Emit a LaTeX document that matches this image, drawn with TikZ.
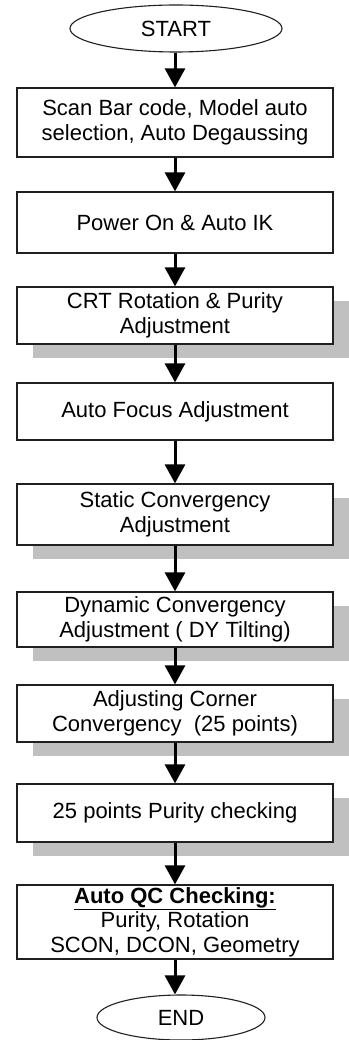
\documentclass[tikz,border=0pt]{standalone}
\usepackage{fontspec}
\setmainfont{Liberation Sans}
\usetikzlibrary{arrows.meta,shapes.geometric,shadows}
\definecolor{shadowgray}{HTML}{C0C0C0}
\definecolor{edgegray}{HTML}{202020}
\begin{document}
\begin{tikzpicture}[x=1pt,y=-1pt,
  every node/.style={font=\fontsize{22}{24.5}\selectfont, text=black},
  stepbox/.style={draw=edgegray, line width=1.3pt, fill=white, rectangle,
    minimum width=316pt, align=center, inner sep=0pt},
  shadowed/.style={drop shadow={shadow xshift=16pt, shadow yshift=-14pt,
    fill=shadowgray, opacity=1}},
  term/.style={draw=edgegray, line width=1.1pt, fill=white, ellipse, inner sep=0pt},
  flow/.style={line width=3pt, -{Triangle[length=19pt,width=20pt]}}
]
\useasboundingbox (0,0) rectangle (348,1040);

\node[term, minimum width=212pt, minimum height=47pt] (start) at (176,28.5) {START};

\node[stepbox, minimum height=69pt] (b1) at (175,122.5) {Scan Bar code, Model auto\\selection, Auto Degaussing};
\node[stepbox, minimum height=61pt] (b2) at (175,222.5) {Power On \& Auto IK};
\node[stepbox, shadowed, minimum height=57pt] (b3) at (175,315.5) {CRT Rotation \& Purity\\Adjustment};
\node[stepbox, minimum height=57pt] (b4) at (175,411.5) {Auto Focus Adjustment};
\node[stepbox, shadowed, minimum height=61pt] (b5) at (175,514.5) {Static Convergency\\Adjustment};
\node[stepbox, shadowed, minimum height=55pt] (b6) at (175,619.5) {Dynamic Convergency\\Adjustment ( DY Tilting)};
\node[stepbox, shadowed, minimum height=57pt] (b7) at (175,713.5) {Adjusting Corner\\Convergency\ \ (25 points)};
\node[stepbox, shadowed, minimum height=58pt] (b8) at (175,813) {25 points Purity checking};
\node[stepbox, minimum height=74pt] (b9) at (175,922) {\textbf{\underline{Auto QC Checking:}}\\Purity, Rotation\\SCON, DCON, Geometry};

\node[term, minimum width=168pt, minimum height=45pt] (end) at (181,1017.5) {END};

\draw[flow] (start.south -| b1.north) -- (b1.north);
\draw[flow] (b1) -- (b2);
\draw[flow] (b2) -- (b3);
\draw[flow] (b3) -- (b4);
\draw[flow] (b4) -- (b5);
\draw[flow] (b5) -- (b6);
\draw[flow] (b6) -- (b7);
\draw[flow] (b7) -- (b8);
\draw[flow] (b8) -- (b9);
\draw[flow] (b9.south) -- (b9.south |- end.north);
\end{tikzpicture}
\end{document}
